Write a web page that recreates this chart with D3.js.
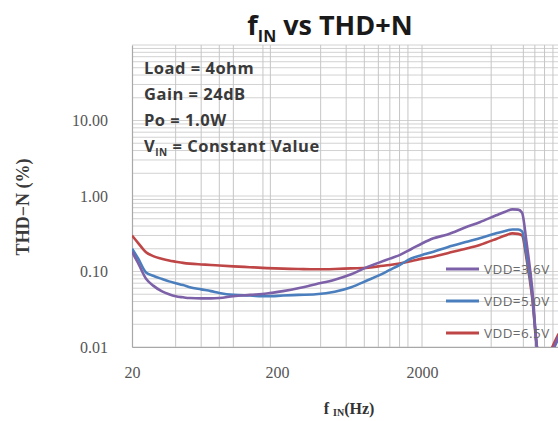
<!DOCTYPE html>
<html><head><meta charset="utf-8">
<script src="https://cdn.jsdelivr.net/npm/d3@7"></script>
<style>body{margin:0;background:#fff} svg{display:block}</style>
</head><body><svg id="c" width="558" height="421"></svg>
<script>
const freqs = [20, 22, 25, 28, 32, 36, 40, 45, 50, 60, 70, 80, 100, 130, 170, 220, 280, 370, 500, 650, 850, 1000, 1200, 1400, 1700, 2000, 2400, 3000, 4000, 5000, 6500, 7500, 8400, 9200, 9800, 10500, 11500, 12500, 14000, 15500, 17500];
const vdd36 = [0.183, 0.13, 0.080, 0.065, 0.055, 0.050, 0.047, 0.0455, 0.0445, 0.044, 0.044, 0.0445, 0.047, 0.049, 0.051, 0.055, 0.060, 0.068, 0.078, 0.092, 0.116, 0.13, 0.148, 0.165, 0.20, 0.235, 0.275, 0.31, 0.385, 0.45, 0.555, 0.62, 0.665, 0.66, 0.60, 0.25, 0.06, 0.009, 0.005, 0.008, 0.014];
const vdd50 = [0.20, 0.15, 0.097, 0.088, 0.080, 0.074, 0.070, 0.066, 0.062, 0.058, 0.055, 0.052, 0.049, 0.048, 0.047, 0.048, 0.049, 0.050, 0.054, 0.062, 0.077, 0.088, 0.105, 0.122, 0.15, 0.165, 0.183, 0.21, 0.245, 0.275, 0.32, 0.345, 0.36, 0.36, 0.34, 0.17, 0.05, 0.009, 0.005, 0.008, 0.013];
const vdd65 = [0.30, 0.24, 0.18, 0.16, 0.148, 0.14, 0.135, 0.13, 0.127, 0.124, 0.122, 0.12, 0.117, 0.114, 0.111, 0.109, 0.108, 0.107, 0.108, 0.110, 0.112, 0.117, 0.122, 0.128, 0.138, 0.148, 0.157, 0.175, 0.2, 0.225, 0.27, 0.30, 0.32, 0.315, 0.30, 0.15, 0.045, 0.009, 0.005, 0.009, 0.015];
const seriesNames = ["VDD=3.6V", "VDD=5.0V", "VDD=6.5V"];
const seriesColors = ["#7d61a8", "#4a7ebd", "#bf4646"];
const yTicks = [0.01, 0.1, 1, 10];
const yTickLabels = ["0.01", "0.10", "1.00", "10.00"];
const xTicks = [20, 200, 2000];
const xTickLabels = ["20", "200", "2000"];
const xGridValues = [40, 60, 80, 100, 160, 180, 400, 600, 800, 1000, 1200, 1400, 1600, 2000, 6000, 10000, 12000, 14000, 16000];
const infoLines = ["Load = 4ohm", "Gain = 24dB", "Po = 1.0W", "= Constant Value"];

const svg = d3.select("#c");
const L = 132, R = 567, T = 45, B = 347;
const x = d3.scaleLog().domain([20, 20000]).range([L, R]);
const y = d3.scaleLog().domain([0.01, 100]).range([B, T]);

// gridlines
const hLines = [];
for (let n = -2; n < 2; n++) for (let k = 1; k <= 9; k++) hLines.push(k * Math.pow(10, n));
hLines.push(100);

const grid = svg.append("g");
grid.selectAll("line.h").data(hLines).join("line")
  .attr("x1", L).attr("x2", R).attr("y1", d => y(d)).attr("y2", d => y(d))
  .attr("stroke", "#d2d2d2").attr("stroke-width", 1);
grid.selectAll("line.v").data(xGridValues).join("line")
  .attr("y1", T).attr("y2", B).attr("x1", d => x(d)).attr("x2", d => x(d))
  .attr("stroke", "#c6c6c6").attr("stroke-width", 1);

// axes
const yAxis = svg.append("g").attr("transform", `translate(${L},0)`)
  .call(d3.axisLeft(y).tickValues(yTicks).tickFormat((d, i) => yTickLabels[i]).tickSize(0).tickPadding(24));
const xAxis = svg.append("g").attr("transform", `translate(0,${B})`)
  .call(d3.axisBottom(x).tickValues(xTicks).tickFormat((d, i) => xTickLabels[i]).tickSize(0).tickPadding(20));
[yAxis, xAxis].forEach(a => {
  a.select(".domain").attr("stroke", "#a8a8a8").attr("stroke-width", 1.2);
  a.selectAll("text").attr("font-family", "Liberation Serif, serif").attr("font-size", 16).attr("fill", "#555");
});

// info text
const info = svg.append("g").attr("font-family", "Open Sans, sans-serif").attr("font-weight", "bold")
  .attr("font-size", 16.5).attr("letter-spacing", 0.5).attr("fill", "#3a3a3a");
infoLines.forEach((t, i) => {
  const tx = info.append("text").attr("x", 144).attr("y", 74 + i * 26);
  if (i === 3) {
    tx.append("tspan").text("V");
    tx.append("tspan").attr("font-size", 10).attr("dy", 4).text("IN");
    tx.append("tspan").attr("dy", -4).text(" " + t);
  } else tx.text(t);
});

// clip
svg.append("clipPath").attr("id", "clip").append("rect")
  .attr("x", L).attr("y", T).attr("width", R - L).attr("height", B - T);

const line = d3.line().x((d, i) => x(freqs[i])).y(d => y(d)).curve(d3.curveMonotoneX);
const allSeries = [vdd36, vdd50, vdd65];
const plot = svg.append("g").attr("clip-path", "url(#clip)");

// legend
const legend = svg.append("g");
seriesNames.forEach((nm, i) => {
  const ly = 269 + i * 32;
  legend.append("line").attr("x1", 446).attr("x2", 479).attr("y1", ly).attr("y2", ly)
    .attr("stroke", seriesColors[i]).attr("stroke-width", 3);
  legend.append("text").attr("x", 484).attr("y", ly + 5).text(nm)
    .attr("font-family", "Open Sans, sans-serif").attr("font-size", 13.5).attr("letter-spacing", 0.4).attr("fill", "#6a6a6a");
});

[2, 1, 0].forEach(i => {
  plot.append("path").attr("d", line(allSeries[i])).attr("fill", "none")
    .attr("stroke", seriesColors[i]).attr("stroke-width", 2.6).attr("stroke-linejoin", "round");
});

// title
const title = svg.append("text").attr("x", 330).attr("y", 35).attr("text-anchor", "middle")
  .attr("font-family", "Open Sans, sans-serif").attr("font-weight", "bold").attr("font-size", 27).attr("fill", "#1a1a1a");
title.append("tspan").text("f");
title.append("tspan").attr("font-size", 16).attr("dy", 7).text("IN");
title.append("tspan").attr("dy", -7).text(" vs THD+N");

// axis titles
const xt = svg.append("text").attr("x", 349).attr("y", 414).attr("text-anchor", "middle")
  .attr("font-family", "Liberation Serif, serif").attr("font-weight", "bold").attr("font-size", 16).attr("fill", "#333");
xt.append("tspan").text("f ");
xt.append("tspan").attr("font-size", 10).attr("dy", 2).text("IN");
xt.append("tspan").attr("dy", -2).text("(Hz)");

svg.append("text").attr("transform", "translate(29,207) rotate(-90)").attr("text-anchor", "middle")
  .attr("font-family", "Liberation Serif, serif").attr("font-weight", "bold").attr("font-size", 18).attr("fill", "#3a3a3a")
  .text("THD−N (%)");
</script></body></html>
